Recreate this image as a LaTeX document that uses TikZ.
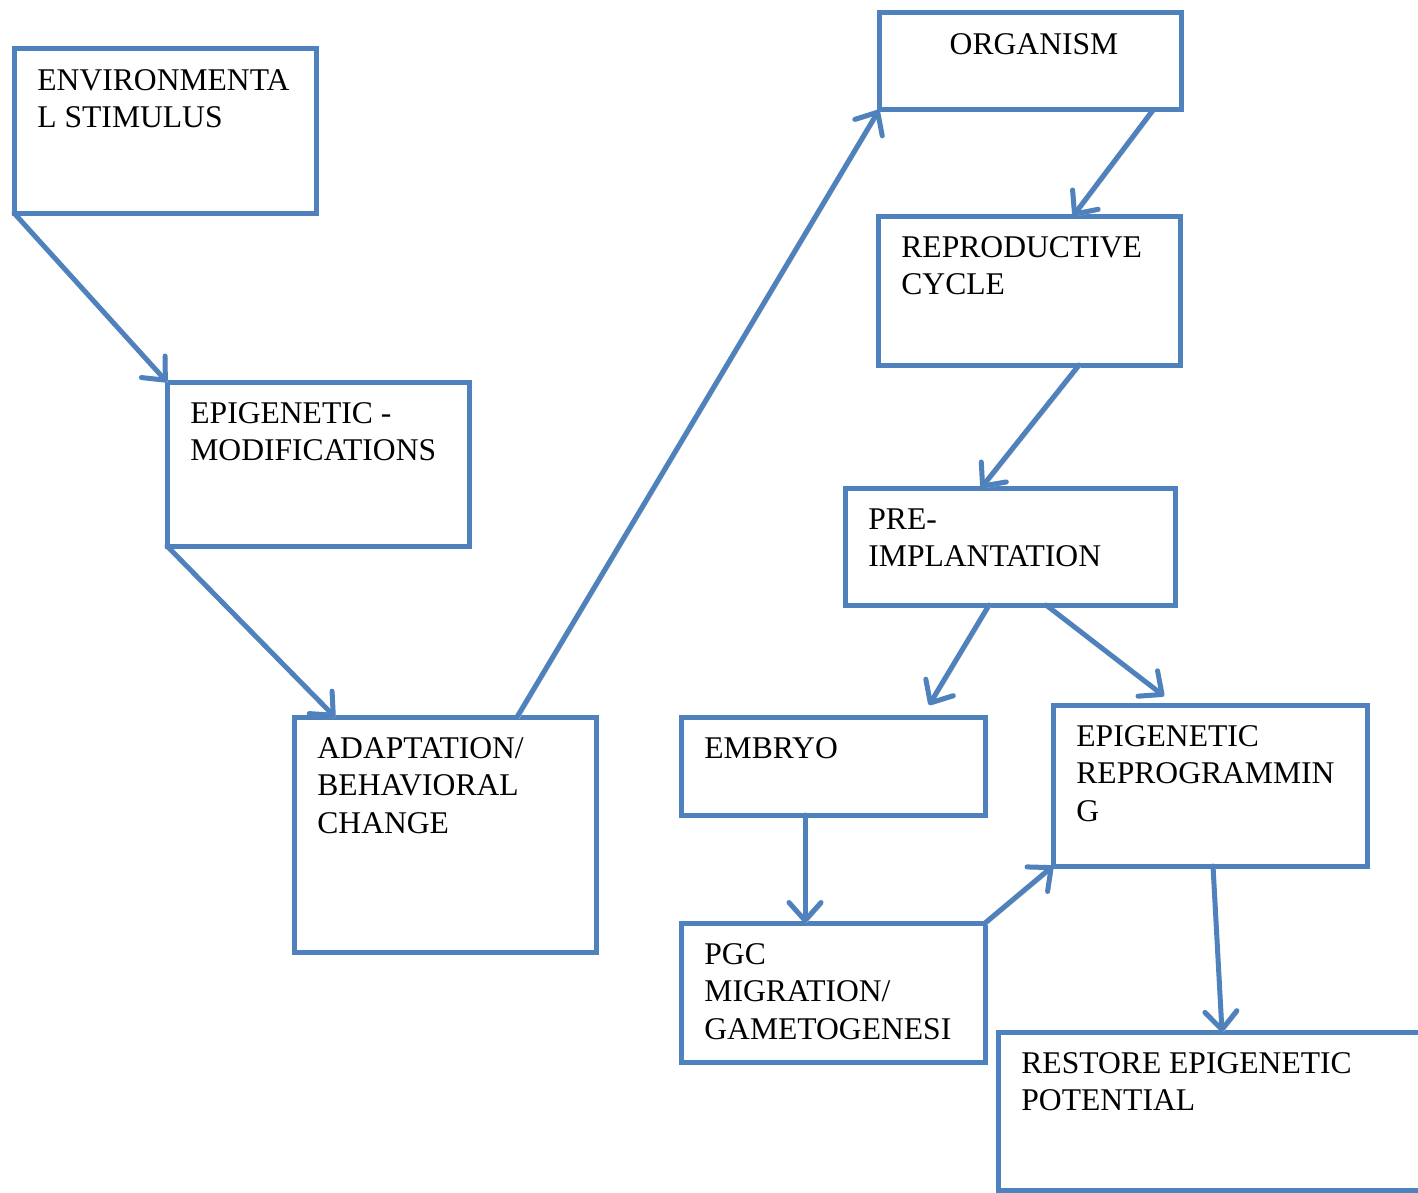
\documentclass[tikz,border=0pt]{standalone}
\usepackage{fontspec}
\setmainfont{Liberation Serif}
\usetikzlibrary{arrows.meta}
\definecolor{boxblue}{HTML}{4F81BD}
\tikzset{
    box/.style 2 args={draw=boxblue,line width=2.5pt,inner sep=0pt,outer sep=0pt,minimum width=#1,minimum height=#2},
    txt/.style={anchor=north west,inner sep=0pt,align=left,font=\fontsize{15.8}{18.75}\selectfont},
    link/.style={draw=boxblue,line width=2.5pt,line cap=round,-{Straight Barb[length=9pt,width=16pt,round]},
        preaction={draw=black!22,transform canvas={shift={(0.9pt,-0.9pt)}}}}
}

\begin{document}
\begin{tikzpicture}[x=0.5pt,y=-0.5pt]
  \useasboundingbox (0,0) rectangle (1418,1193);

  % Boxes
  \node[box={151pt}{82pt}] (env) at (165,131) {};
  \node[box={151pt}{82pt}] (epi) at (318,464) {};
  \node[box={151pt}{117.5pt}] (adapt) at (445,834.5) {};
  \node[box={151pt}{48.5pt}] (org) at (1030,61.5) {};
  \node[box={151pt}{74.5pt}] (rep) at (1029,290.5) {};
  \node[box={165pt}{58.5pt}] (pre) at (1010,546.5) {};
  \node[box={152pt}{49pt}] (embryo) at (833,766) {};
  \node[box={157pt}{80.5pt}] (reprog) at (1210,785.5) {};
  \node[box={152pt}{69.5pt}] (pgc) at (833,992.5) {};
  \node[box={216pt}{79pt}] (restore) at (1214,1111) {};

  % Labels
  \node[txt] (envtext) at ([shift={(23,20)}]env.north west) {ENVIRONMENTA\\L STIMULUS};
  \node[txt] (epitext) at ([shift={(23,20)}]epi.north west) {EPIGENETIC -\\MODIFICATIONS};
  \node[txt] (adapttext) at ([shift={(23,20)}]adapt.north west) {ADAPTATION/\\BEHAVIORAL\\CHANGE};
  \node[txt,anchor=north] (orgtext) at ([shift={(4,20)}]org.north) {ORGANISM};
  \node[txt] (reptext) at ([shift={(23,20)}]rep.north west) {REPRODUCTIVE\\CYCLE};
  \node[txt] (pretext) at ([shift={(23,20)}]pre.north west) {PRE-\\IMPLANTATION};
  \node[txt] (embryotext) at ([shift={(23,20)}]embryo.north west) {EMBRYO};
  \node[txt] (reprogtext) at ([shift={(23,20)}]reprog.north west) {EPIGENETIC\\REPROGRAMMIN\\G};
  \node[txt] (pgctext) at ([shift={(23,20)}]pgc.north west) {PGC\\MIGRATION/\\GAMETOGENESI};
  \node[txt] (restoretext) at ([shift={(23,20)}]restore.north west) {RESTORE EPIGENETIC\\POTENTIAL};

  % Arrows
  \draw[link] (env.south west) -- (epi.north west);
  \draw[link] (epi.south west) -- ([shift={(41,0)}]adapt.north west);
  \draw[link] ([shift={(223,0)}]adapt.north west) -- (org.south west);
  \draw[link] ([shift={(-28,0)}]org.south east) -- ([shift={(195,0)}]rep.north west);
  \draw[link] ([shift={(201,0)}]rep.south west) -- ([shift={(136,0)}]pre.north west);
  \draw[link] ([shift={(144,0)}]pre.south west) -- ([shift={(248,-12)}]embryo.north west);
  \draw[link] ([shift={(201,0)}]pre.south west) -- ([shift={(111,-9)}]reprog.north west);
  \draw[link] ([shift={(124,0)}]embryo.south west) -- ([shift={(124,0)}]pgc.north west);
  \draw[link] (pgc.north east) -- (reprog.south west);
  \draw[link] ([shift={(160,0)}]reprog.south west) -- ([shift={(224,0)}]restore.north west);
\end{tikzpicture}
\end{document}
